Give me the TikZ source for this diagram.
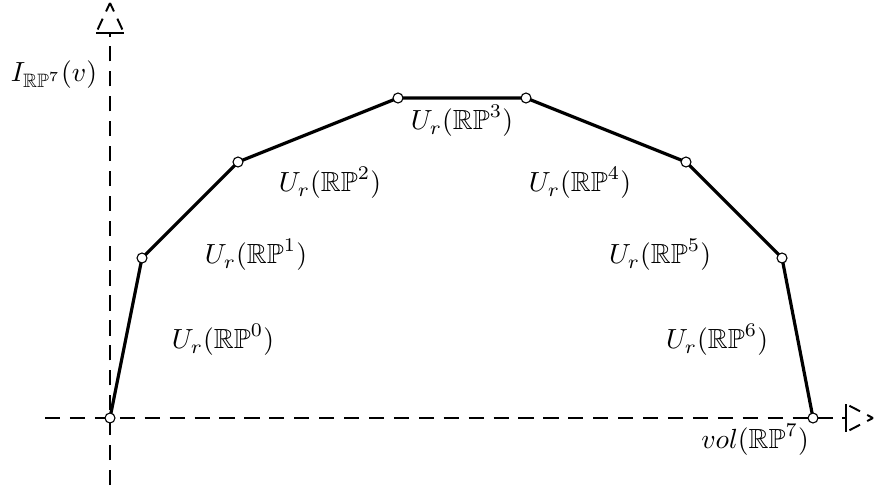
\documentclass[tikz,border=0pt]{standalone}
\usepackage{amsmath}
\usepackage{amssymb}
\usetikzlibrary{positioning}

\tikzset{
  axisline/.style={line width=0.7pt, dash pattern=on 5.5pt off 3.5pt},
  tipside/.style={line width=0.7pt, dash pattern=on 0pt off 1.4pt on 4.3pt off 2.9pt on 4pt},
  hull/.style={line width=1.15pt, line join=round},
  vtx/.style={circle, draw, fill=white, inner sep=0pt, minimum size=3.6pt, line width=0.4pt},
}

\begin{document}
\begin{tikzpicture}[x=0.0127cm, y=-0.0127cm]
\useasboundingbox (0,0) rectangle (875,485);

% axes
\coordinate (ybot) at (110,485);
\coordinate (ytop) at (110,33);
\coordinate (xleft) at (45,418);
\coordinate (xright) at (846,418);
\draw[axisline] (ybot) -- (ytop);
\draw[axisline] (xleft) -- (xright);

% open dashed tips
\coordinate (yl) at (96,33);
\coordinate (yr) at (124,33);
\coordinate (yapex) at (110,3);
\draw[line width=0.7pt] (yl) -- (yr);
\draw[tipside] (yl) -- (yapex);
\draw[tipside] (yr) -- (yapex);
\coordinate (xu) at (846,404);
\coordinate (xd) at (846,432);
\coordinate (xapex) at (873,418);
\draw[line width=0.7pt] (xu) -- (xd);
\draw[tipside] (xu) -- (xapex);
\draw[tipside] (xd) -- (xapex);

% profile
\coordinate (p0) at (110,418);
\coordinate (p1) at (142,258);
\coordinate (p2) at (238,162);
\coordinate (p3) at (398,98);
\coordinate (p4) at (526,98);
\coordinate (p5) at (686,162);
\coordinate (p6) at (782,258);
\coordinate (p7) at (813,418);
\draw[hull] (p0) -- (p1) -- (p2) -- (p3) -- (p4) -- (p5) -- (p6) -- (p7);
\foreach \i in {0,...,7}
  \node[vtx] (v\i) at (p\i) {};

% labels
\node (ylab) at (54,75) {$I_{\mathbb{RP}^7}(v)$};
\node (xlab) at (755,440) {$vol(\mathbb{RP}^7)$};
\node (u0) at (223,340) {$U_r(\mathbb{RP}^0)$};
\node (u1) at (256,255) {$U_r(\mathbb{RP}^1)$};
\node (u2) at (330,183) {$U_r(\mathbb{RP}^2)$};
\node (u3) at (462,121) {$U_r(\mathbb{RP}^3)$};
\node (u4) at (580,183) {$U_r(\mathbb{RP}^4)$};
\node (u5) at (660,255) {$U_r(\mathbb{RP}^5)$};
\node (u6) at (717,340) {$U_r(\mathbb{RP}^6)$};
\end{tikzpicture}
\end{document}
